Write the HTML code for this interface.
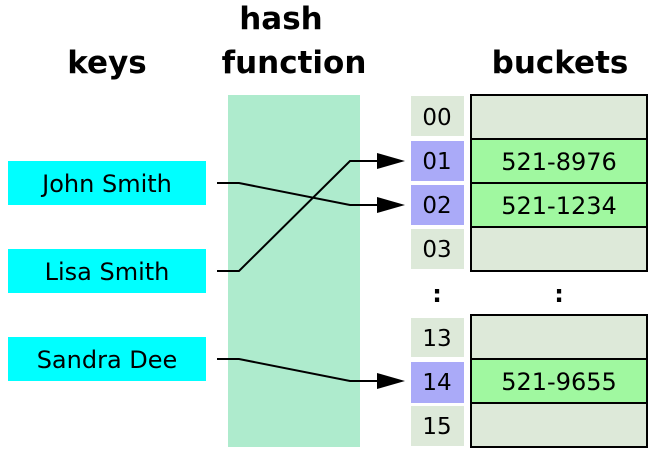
<!DOCTYPE html>
<html><head><style>body{margin:0;background:#fff}svg{display:block}</style></head><body>
<svg width="671" height="464" xmlns="http://www.w3.org/2000/svg" font-family="DejaVu Sans, Liberation Sans, sans-serif">
<rect width="671" height="464" fill="#fff"/>
<g font-weight="bold" font-size="31" text-anchor="middle" fill="#000">
<text x="107" y="73">keys</text>
<text x="281" y="29">hash</text>
<text x="294" y="73">function</text>
<text x="560" y="73">buckets</text>
</g>
<rect x="228" y="95" width="132" height="352" fill="#aeebcd"/>
<g fill="#00ffff">
<rect x="8" y="161" width="198" height="44"/>
<rect x="8" y="249" width="198" height="44"/>
<rect x="8" y="337" width="198" height="44"/>
</g>
<g font-size="24" text-anchor="middle" fill="#000">
<text x="107" y="192">John Smith</text>
<text x="107" y="280">Lisa Smith</text>
<text x="107" y="368">Sandra Dee</text>
</g>
<g>
<rect x="411" y="96" width="53" height="40" fill="#dde9d9"/>
<rect x="411" y="141" width="53" height="40" fill="#aaaaf8"/>
<rect x="411" y="185" width="53" height="40" fill="#aaaaf8"/>
<rect x="411" y="229" width="53" height="40" fill="#dde9d9"/>
<rect x="411" y="318" width="53" height="39" fill="#dde9d9"/>
<rect x="411" y="362" width="53" height="41" fill="#aaaaf8"/>
<rect x="411" y="406" width="53" height="40" fill="#dde9d9"/>
</g>
<g font-size="23" text-anchor="middle" fill="#000">
<text x="437" y="125">00</text>
<text x="437" y="169">01</text>
<text x="437" y="213">02</text>
<text x="437" y="257">03</text>
<text x="437" y="346">13</text>
<text x="437" y="390">14</text>
<text x="437" y="434">15</text>
</g>
<g stroke="#000" stroke-width="2">
<rect x="471" y="95" width="176" height="44" fill="#dde9d9"/>
<rect x="471" y="139" width="176" height="44" fill="#a0f8a0"/>
<rect x="471" y="183" width="176" height="44" fill="#a0f8a0"/>
<rect x="471" y="227" width="176" height="44" fill="#dde9d9"/>
<rect x="471" y="315" width="176" height="44" fill="#dde9d9"/>
<rect x="471" y="359" width="176" height="44" fill="#a0f8a0"/>
<rect x="471" y="403" width="176" height="44" fill="#dde9d9"/>
</g>
<g font-size="24" text-anchor="middle" fill="#000">
<text x="559" y="170">521-8976</text>
<text x="559" y="214">521-1234</text>
<text x="559" y="390">521-9655</text>
</g>
<g font-size="24" font-weight="bold" text-anchor="middle" fill="#000">
<text x="437" y="302">:</text>
<text x="559" y="302">:</text>
</g>
<g stroke="#000" stroke-width="2" fill="none">
<polyline points="217,183 239,183 350,205 380,205"/>
<polyline points="217,271 239,271 350,161 380,161"/>
<polyline points="217,359 239,359 350,381 380,381"/>
</g>
<g fill="#000">
<polygon points="377,153 405,161 377,169"/>
<polygon points="377,197 405,205 377,213"/>
<polygon points="377,373 405,381 377,389"/>
</g>
</svg>
</body></html>
